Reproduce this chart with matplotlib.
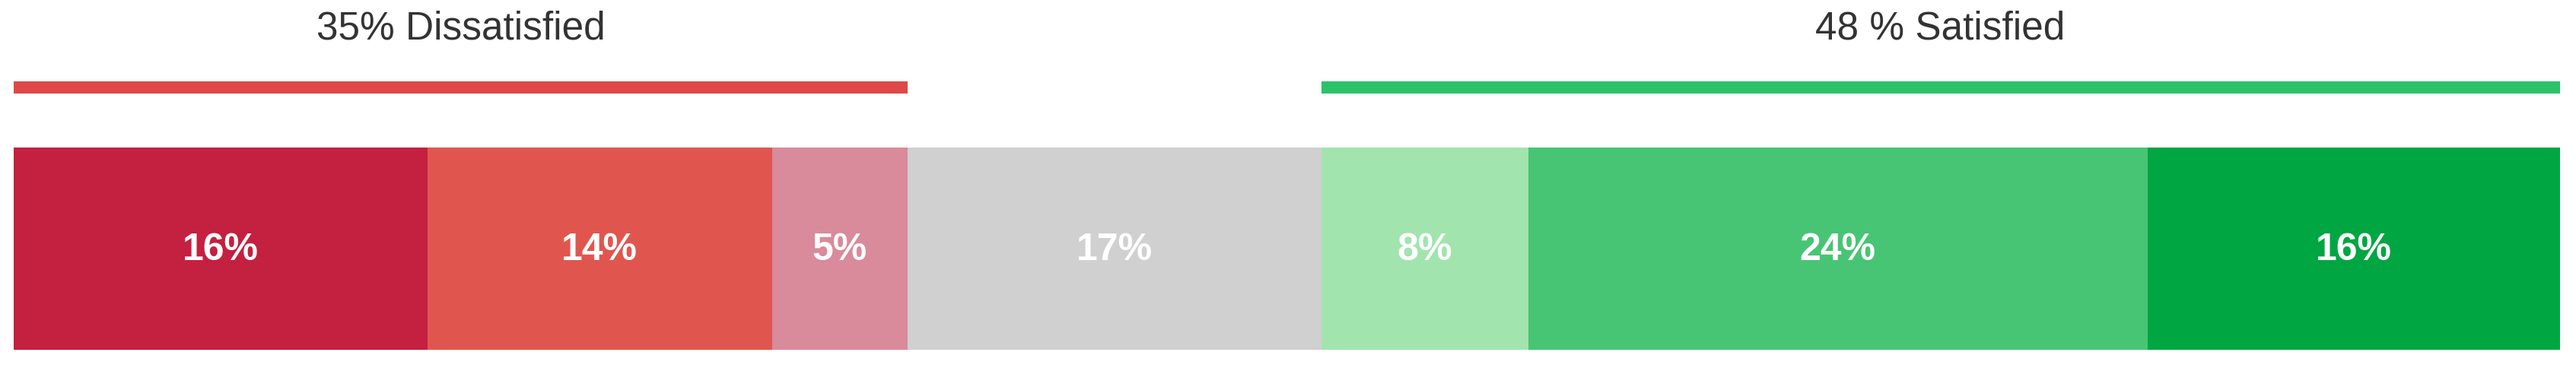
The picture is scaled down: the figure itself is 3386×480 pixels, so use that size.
import numpy as np
import matplotlib
matplotlib.use('Agg')
import matplotlib.pyplot as plt
from matplotlib import font_manager

# ── Data ────────────────────────────────────────────────────────────────────
SEGMENT_VALUES = [16.25, 13.53, 5.32, 16.25, 8.13, 24.32, 16.19]   # share of bar (%)
SEGMENT_LABELS = ['16%', '14%', '5%', '17%', '8%', '24%', '16%']
SEGMENT_COLORS = ['#C42040', '#E0564F', '#D98A9B', '#D0D0D0',
                  '#A2E4AE', '#47C574', '#00A642']
GROUP_TITLES = ['35% Dissatisfied', '48 % Satisfied']
GROUP_SLICES = [(0, 3), (4, 7)]                 # segments under each header
GROUP_COLORS = ['#DE4848', '#2CC26A']

# ── Style ───────────────────────────────────────────────────────────────────
W, H, DPI = 3387, 481, 100
X0_PX, X1_PX = 18, 3365          # bar extent in pixels
BAR_TOP, BAR_BOT = 195, 461
LINE_Y = 115.5
TITLE_Y = 38
TITLE_SIZE = 37
LABEL_SIZE = 36

available = {f.name for f in font_manager.fontManager.ttflist}
family = ['Liberation Sans Narrow'] if 'Liberation Sans Narrow' in available \
    else ['Liberation Sans', 'DejaVu Sans']
plt.rcParams['font.family'] = family

fig = plt.figure(figsize=(W / DPI, H / DPI), dpi=DPI)
ax = fig.add_axes([0, 0, 1, 1])
scale = (X1_PX - X0_PX) / 100.0
ax.set_xlim(-X0_PX / scale, (W - X0_PX) / scale)
ax.set_ylim(H, 0)
ax.axis('off')

vals = np.array(SEGMENT_VALUES)
lefts = np.concatenate([[0], np.cumsum(vals)[:-1]])
ax.barh((BAR_TOP + BAR_BOT) / 2, vals, left=lefts, height=BAR_BOT - BAR_TOP,
        color=SEGMENT_COLORS, edgecolor='none')

for left, v, lab in zip(lefts, vals, SEGMENT_LABELS):
    ax.text(left + v / 2, (BAR_TOP + BAR_BOT) / 2 + 1, lab, ha='center',
            va='center', color='white', fontsize=LABEL_SIZE, fontweight='bold')

# group headers with coloured rule
for title, (a, b), col in zip(GROUP_TITLES, GROUP_SLICES, GROUP_COLORS):
    start = lefts[a]
    end = lefts[b - 1] + vals[b - 1]
    ax.plot([start, end], [LINE_Y, LINE_Y], color=col, linewidth=16 * 72 / DPI,
            solid_capstyle='butt')
    ax.text((start + end) / 2, TITLE_Y, title, ha='center', va='center',
            color='#333333', fontsize=TITLE_SIZE)

fig.savefig('out.png', dpi=DPI, facecolor='white')
